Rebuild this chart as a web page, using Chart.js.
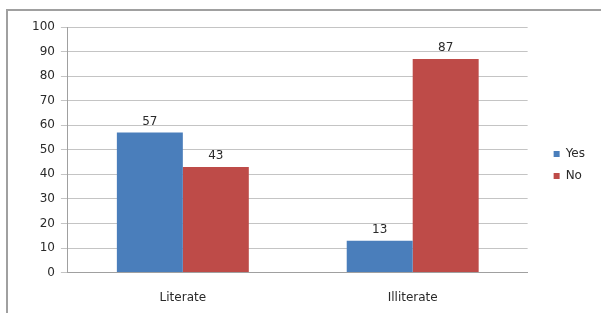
<!DOCTYPE html>
<html><head><meta charset="utf-8">
<script src="https://cdn.jsdelivr.net/npm/chart.js@4/dist/chart.umd.min.js"></script>
<style>
html,body{margin:0;padding:0;background:#fff;width:601px;height:313px;overflow:hidden}
#frame{position:absolute;left:6px;top:9px;width:600px;height:310px;border-left:2px solid #a0a0a0;border-top:2px solid #a0a0a0;box-sizing:border-box}
#wrap{position:absolute;left:0;top:0;width:601px;height:313px}
</style></head>
<body>
<div id="frame"></div>
<div id="wrap"><canvas id="c" width="601" height="313"></canvas></div>
<script>
const categories = ["Literate", "Illiterate"];
const yesValues = [57, 13];
const noValues = [43, 87];
const yTicks = [0,10,20,30,40,50,60,70,80,90,100];

const valueLabels = {
  id: 'valueLabels',
  afterDatasetsDraw(chart) {
    const ctx = chart.ctx;
    ctx.save();
    ctx.font = '12px "DejaVu Sans"';
    ctx.fillStyle = '#2a2a2a';
    ctx.textAlign = 'center';
    ctx.textBaseline = 'bottom';
    chart.data.datasets.forEach((ds, i) => {
      chart.getDatasetMeta(i).data.forEach((el, j) => {
        ctx.fillText(String(ds.data[j]), el.x, el.y - 5);
      });
    });
    ctx.restore();
  }
};
const legendShift = {
  id: 'legendShift',
  afterLayout(chart) {
    const l = chart.legend;
    const dx = 16, dy = -10;
    l.left += dx; l.right += dx; l.top += dy; l.bottom += dy;
  }
};

new Chart(document.getElementById('c'), {
  type: 'bar',
  data: {
    labels: categories,
    datasets: [
      {label: 'Yes', data: yesValues, backgroundColor: '#4A7EBB', borderWidth: 0},
      {label: 'No', data: noValues, backgroundColor: '#BE4B48', borderWidth: 0}
    ]
  },
  options: {
    responsive: false,
    animation: false,
    devicePixelRatio: 1,
    layout: {padding: {left: 26, top: 27, right: 22, bottom: -10}},
    datasets: {bar: {categoryPercentage: 0.574, barPercentage: 1}},
    plugins: {
      tooltip: {enabled: false},
      legend: {
        position: 'right',
        labels: {boxWidth: 6, boxHeight: 6, padding: 10, color: '#2a2a2a', font: {family: 'DejaVu Sans', size: 12}}
      }
    },
    scales: {
      x: {
        grid: {display: false, drawTicks: false},
        border: {display: true, color: '#a0a0a0'},
        ticks: {padding: 18, color: '#2a2a2a', font: {family: 'DejaVu Sans', size: 12}}
      },
      y: {
        min: 0, max: 100,
        afterBuildTicks(axis) { axis.ticks = yTicks.map(v => ({value: v})); },
        grid: {color: '#c4c4c4', lineWidth: 1, tickLength: 7},
        border: {display: true, color: '#a0a0a0'},
        ticks: {padding: 6, color: '#2a2a2a', font: {family: 'DejaVu Sans', size: 12}}
      }
    }
  },
  plugins: [valueLabels, legendShift]
});
</script>
</body></html>
